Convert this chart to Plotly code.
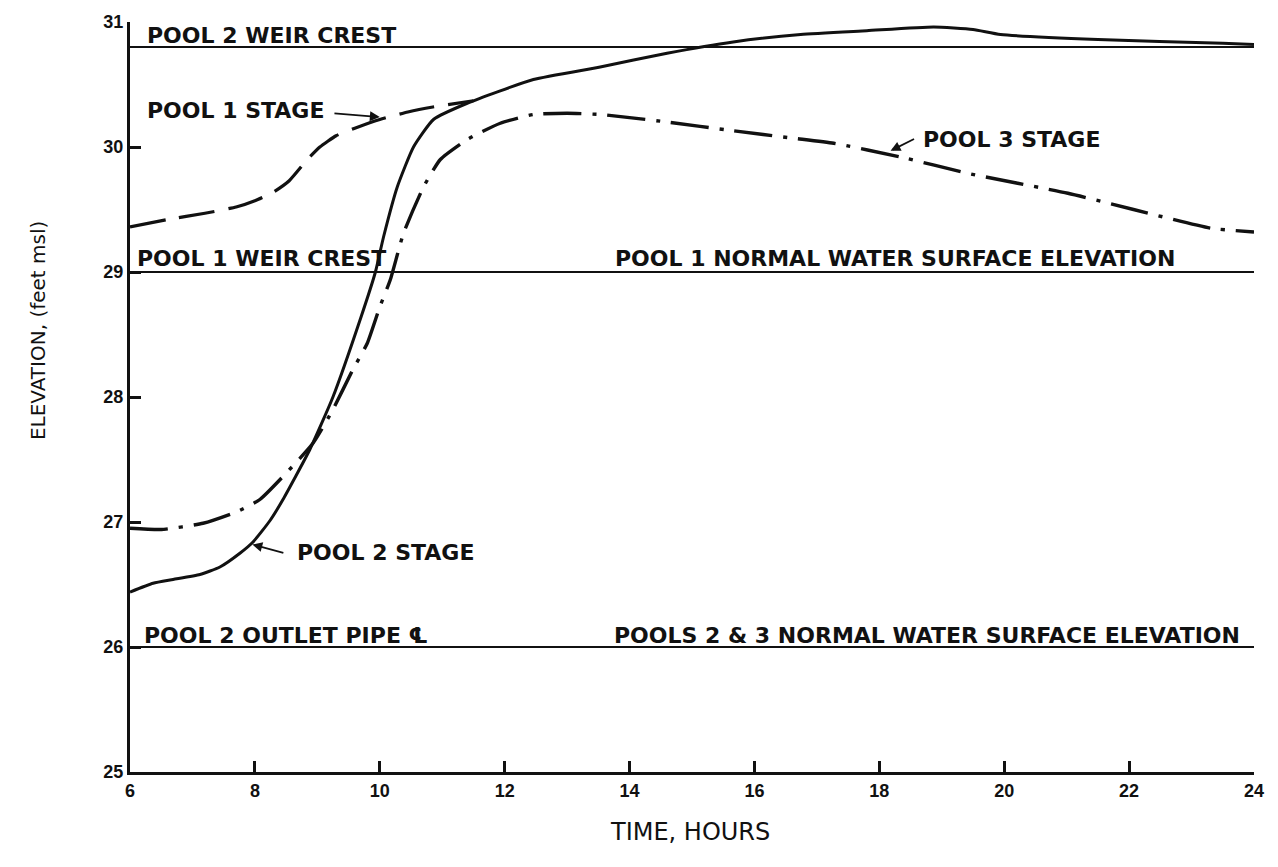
import plotly.graph_objects as go

# ---- data ----
time_p2 = [6.0, 6.37, 6.69, 7.12, 7.44, 7.76, 7.97, 8.24, 8.45, 8.88, 9.25, 9.7, 9.93, 10.06,
           10.28, 10.54, 10.86, 11.4, 12.46, 13.53, 14.6, 15.66, 16.74, 17.8, 18.87, 19.5,
           19.94, 21.5, 23.5, 24.0]
pool2_stage = [26.44, 26.51, 26.54, 26.58, 26.64, 26.75, 26.84, 27.01, 27.18, 27.58, 28.0,
               28.64, 29.0, 29.28, 29.68, 30.0, 30.22, 30.35, 30.54, 30.64, 30.75, 30.84, 30.9,
               30.93, 30.96, 30.94, 30.9, 30.86, 30.83, 30.82]

time_p1 = [6.0, 6.6, 7.2, 7.7, 8.0, 8.3, 8.55, 8.84, 9.04, 9.3, 9.6, 10.0, 10.45, 10.85, 11.5]
pool1_stage = [29.36, 29.42, 29.47, 29.52, 29.57, 29.64, 29.73, 29.9, 30.0, 30.09, 30.15, 30.22,
               30.28, 30.32, 30.37]

time_p3 = [6.0, 6.5, 7.17, 7.7, 8.08, 8.93, 9.25, 9.57, 9.8, 10.0, 10.17, 10.38, 10.7, 10.97,
           11.4, 11.93, 12.46, 13.0, 13.53, 14.6, 15.66, 16.63, 17.27, 18.34, 19.41, 21.02,
           22.07, 23.31, 24.0]
pool3_stage = [26.95, 26.94, 26.99, 27.08, 27.18, 27.63, 27.9, 28.22, 28.43, 28.72, 28.94, 29.31,
               29.68, 29.9, 30.06, 30.19, 30.26, 30.27, 30.26, 30.2, 30.13, 30.07, 30.03, 29.92,
               29.79, 29.63, 29.5, 29.35, 29.32]

ref_x = [6, 24]
ref_levels = [30.8, 29.0, 26.0]

x_ticks = [6, 8, 10, 12, 14, 16, 18, 20, 22, 24]
y_ticks = [25, 26, 27, 28, 29, 30, 31]

BLACK = "#111111"
LBL = dict(family="DejaVu Sans", size=22, color=BLACK, weight="bold")

fig = go.Figure()

for lv in ref_levels:
    fig.add_trace(go.Scatter(x=ref_x, y=[lv, lv], mode="lines",
                             line=dict(color=BLACK, width=2), hoverinfo="skip", cliponaxis=False))

fig.add_trace(go.Scatter(x=time_p2, y=pool2_stage, mode="lines", cliponaxis=False,
                         line=dict(color=BLACK, width=3, shape="spline", smoothing=0.5)))
fig.add_trace(go.Scatter(x=time_p1, y=pool1_stage, mode="lines", cliponaxis=False,
                         line=dict(color=BLACK, width=3.2, shape="spline", smoothing=0.5,
                                   dash="36px,14px")))
fig.add_trace(go.Scatter(x=time_p3, y=pool3_stage, mode="lines", cliponaxis=False,
                         line=dict(color=BLACK, width=3.4, shape="spline", smoothing=0.5,
                                   dash="38px,11px,4px,11px")))

texts = [
    ("POOL 2 WEIR CREST", 6.24, 30.89),
    ("POOL 1 STAGE", 6.24, 30.29),
    ("POOL 1 WEIR CREST", 6.08, 29.11),
    ("POOL 1 NORMAL WATER SURFACE ELEVATION", 13.74, 29.11),
    ("POOL 2 OUTLET PIPE \u2104", 6.19, 26.09),
    ("POOLS 2 & 3 NORMAL WATER SURFACE ELEVATION", 13.72, 26.09),
    ("POOL 2 STAGE", 8.65, 26.76),
    ("POOL 3 STAGE", 18.66, 30.06),
]
for t, x, y in texts:
    fig.add_annotation(x=x, y=y, text=t, showarrow=False, xanchor="left", yanchor="middle",
                       font=LBL)

arrows = [
    # (tip_x, tip_y, tail_x, tail_y)
    (10.0, 30.24, 9.25, 30.27),
    (7.96, 26.82, 8.48, 26.75),
    (18.18, 29.97, 18.58, 30.07),
]
for tx, ty, sx, sy in arrows:
    fig.add_annotation(x=tx, y=ty, ax=sx, ay=sy, axref="x", ayref="y", text="",
                       showarrow=True, arrowhead=2, arrowsize=1.1, arrowwidth=1.8,
                       arrowcolor=BLACK)

fig.add_annotation(xref="paper", yref="paper", x=-0.082, y=0.589, text="ELEVATION, (feet msl)",
                   textangle=-90, showarrow=False, xanchor="center", yanchor="middle",
                   font=dict(family="DejaVu Sans", size=20, color=BLACK))
fig.add_annotation(xref="paper", yref="paper", x=0.498, y=-0.08, text="TIME, HOURS",
                   showarrow=False, xanchor="center", yanchor="middle",
                   font=dict(family="DejaVu Sans", size=24, color=BLACK))

TICKFONT = dict(family="Liberation Sans", size=18, color=BLACK, weight="bold")
fig.update_xaxes(range=[6, 24], tickvals=x_ticks, ticktext=[str(v) for v in x_ticks],
                 ticks="inside", ticklen=11, tickwidth=2.5, tickcolor=BLACK,
                 showline=True, linewidth=3, linecolor=BLACK, showgrid=False, zeroline=False,
                 tickfont=TICKFONT, automargin=False)
fig.update_yaxes(range=[25, 31], tickvals=y_ticks, ticktext=[str(v) for v in y_ticks],
                 ticks="inside", ticklen=11, tickwidth=2.5, tickcolor=BLACK,
                 showline=True, linewidth=3, linecolor=BLACK, showgrid=False, zeroline=False,
                 tickfont=TICKFONT, automargin=False)

fig.update_layout(width=1278, height=867, margin=dict(l=122, r=32, t=14, b=103),
                  plot_bgcolor="white", paper_bgcolor="white", showlegend=False)

fig.write_html("out.html")
